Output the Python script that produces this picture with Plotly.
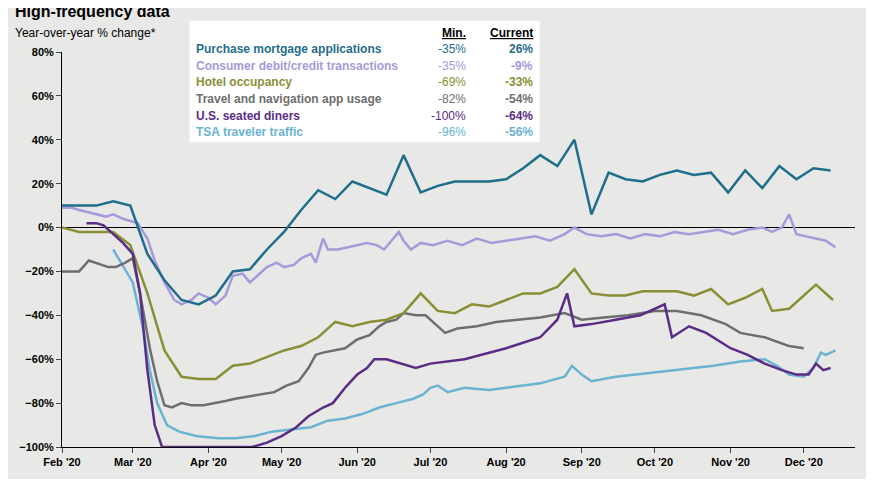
import plotly.graph_objects as go

mort_d = ["2020-02-01","2020-02-08","2020-02-15","2020-02-22","2020-02-29","2020-03-07","2020-03-14","2020-03-21","2020-03-28","2020-04-04","2020-04-11","2020-04-18","2020-04-25","2020-05-02","2020-05-09","2020-05-16","2020-05-23","2020-05-30","2020-06-06","2020-06-13","2020-06-20","2020-06-27","2020-07-04","2020-07-11","2020-07-18","2020-07-25","2020-08-01","2020-08-08","2020-08-15","2020-08-22","2020-08-29","2020-09-05","2020-09-12","2020-09-19","2020-09-26","2020-10-03","2020-10-10","2020-10-17","2020-10-24","2020-10-31","2020-11-07","2020-11-14","2020-11-21","2020-11-28","2020-12-05","2020-12-12"]
mort_v = [10,10,10,12,10,-12,-24,-33,-35,-31,-20,-19,-10,-2,8,17,13,21,18,15,33,16,19,21,21,21,22,27,33,28,40,6,25,22,21,24,26,24,25,16,26,18,28,22,27,26]

cons_d = ["2020-02-01","2020-02-05","2020-02-08","2020-02-12","2020-02-15","2020-02-19","2020-02-22","2020-02-26","2020-02-29","2020-03-03","2020-03-07","2020-03-10","2020-03-14","2020-03-18","2020-03-21","2020-03-25","2020-03-28","2020-04-01","2020-04-04","2020-04-08","2020-04-11","2020-04-15","2020-04-18","2020-04-22","2020-04-25","2020-04-29","2020-05-02","2020-05-06","2020-05-09","2020-05-13","2020-05-15","2020-05-18","2020-05-20","2020-05-24","2020-05-28","2020-06-01","2020-06-05","2020-06-09","2020-06-12","2020-06-15","2020-06-18","2020-06-20","2020-06-23","2020-06-27","2020-07-02","2020-07-08","2020-07-14","2020-07-20","2020-07-26","2020-08-01","2020-08-07","2020-08-13","2020-08-19","2020-08-25","2020-08-29","2020-09-03","2020-09-09","2020-09-15","2020-09-21","2020-09-27","2020-10-03","2020-10-09","2020-10-15","2020-10-21","2020-10-27","2020-11-02","2020-11-08","2020-11-14","2020-11-18","2020-11-22","2020-11-25","2020-11-28","2020-12-02","2020-12-06","2020-12-10","2020-12-14"]
cons_v = [9,9,8,7,6,5,6,4,3,2,-5,-15,-25,-33,-35,-33,-30,-32,-35,-31,-22,-21,-25,-21,-18,-16,-18,-17,-14,-12,-16,-5,-10,-10,-9,-8,-7,-8,-10,-6,-2,-6,-10,-7,-8,-6,-8,-5,-7,-6,-5,-4,-6,-3,0,-3,-4,-3,-5,-3,-4,-2,-3,-2,-1,-3,-1,0,-2,0,6,-3,-4,-5,-6,-9]

hot_d = ["2020-02-01","2020-02-08","2020-02-22","2020-02-29","2020-03-07","2020-03-14","2020-03-21","2020-03-28","2020-04-04","2020-04-11","2020-04-18","2020-04-25","2020-05-02","2020-05-09","2020-05-16","2020-05-23","2020-05-30","2020-06-06","2020-06-13","2020-06-20","2020-06-27","2020-07-04","2020-07-11","2020-07-18","2020-07-25","2020-08-01","2020-08-08","2020-08-15","2020-08-22","2020-08-29","2020-09-05","2020-09-12","2020-09-19","2020-09-26","2020-10-03","2020-10-10","2020-10-17","2020-10-24","2020-10-31","2020-11-07","2020-11-14","2020-11-18","2020-11-25","2020-12-06","2020-12-13"]
hot_v = [0,-2,-2,-8,-30,-56,-68,-69,-69,-63,-62,-59,-56,-54,-50,-43,-45,-43,-42,-39,-30,-38,-39,-35,-36,-33,-30,-30,-27,-19,-30,-31,-31,-29,-29,-29,-31,-28,-35,-32,-28,-38,-37,-26,-33]

trav_d = ["2020-02-01","2020-02-05","2020-02-08","2020-02-12","2020-02-15","2020-02-20","2020-02-23","2020-02-27","2020-03-01","2020-03-04","2020-03-08","2020-03-11","2020-03-14","2020-03-17","2020-03-21","2020-03-25","2020-03-30","2020-04-04","2020-04-08","2020-04-12","2020-04-18","2020-04-24","2020-04-28","2020-05-03","2020-05-08","2020-05-12","2020-05-15","2020-05-18","2020-05-22","2020-05-27","2020-06-01","2020-06-06","2020-06-10","2020-06-13","2020-06-17","2020-06-20","2020-06-25","2020-06-29","2020-07-03","2020-07-07","2020-07-12","2020-07-20","2020-07-28","2020-08-05","2020-08-15","2020-08-25","2020-09-01","2020-09-10","2020-09-20","2020-10-01","2020-10-10","2020-10-20","2020-10-30","2020-11-05","2020-11-15","2020-11-25","2020-12-01"]
trav_v = [-20,-20,-20,-15,-16,-18,-18,-16,-14,-30,-55,-70,-81,-82,-80,-81,-81,-80,-79,-78,-77,-76,-75,-72,-70,-64,-58,-57,-56,-55,-51,-49,-45,-43,-42,-39,-40,-40,-44,-48,-46,-45,-43,-42,-41,-39,-42,-41,-40,-38,-38,-40,-44,-48,-50,-54,-55]

din_d = ["2020-02-11","2020-02-15","2020-02-18","2020-02-22","2020-02-26","2020-03-01","2020-03-04","2020-03-07","2020-03-10","2020-03-13","2020-04-01","2020-04-19","2020-04-25","2020-05-01","2020-05-07","2020-05-12","2020-05-18","2020-05-22","2020-05-27","2020-06-01","2020-06-05","2020-06-08","2020-06-13","2020-06-16","2020-06-20","2020-06-25","2020-07-01","2020-07-15","2020-08-01","2020-08-15","2020-08-22","2020-08-26","2020-08-29","2020-09-05","2020-09-15","2020-09-25","2020-10-01","2020-10-05","2020-10-08","2020-10-15","2020-10-22","2020-10-28","2020-11-01","2020-11-08","2020-11-15","2020-11-22","2020-11-28","2020-12-03","2020-12-06","2020-12-09","2020-12-12"]
din_v = [2,2,1,-3,-7,-12,-30,-65,-90,-100,-100,-100,-98,-95,-91,-86,-82,-80,-73,-67,-64,-60,-60,-61,-62,-64,-62,-60,-55,-50,-42,-30,-45,-44,-42,-40,-37,-35,-50,-45,-48,-52,-55,-58,-62,-65,-67,-67,-62,-65,-64]

tsa_d = ["2020-02-22","2020-03-01","2020-03-05","2020-03-08","2020-03-11","2020-03-15","2020-03-20","2020-03-27","2020-04-05","2020-04-12","2020-04-20","2020-04-27","2020-05-05","2020-05-13","2020-05-20","2020-05-27","2020-06-03","2020-06-10","2020-06-17","2020-06-24","2020-06-28","2020-07-01","2020-07-04","2020-07-08","2020-07-15","2020-07-25","2020-08-01","2020-08-15","2020-08-25","2020-08-28","2020-09-01","2020-09-05","2020-09-15","2020-10-01","2020-10-15","2020-10-25","2020-11-05","2020-11-15","2020-11-20","2020-11-25","2020-12-01","2020-12-05","2020-12-08","2020-12-10","2020-12-14"]
tsa_v = [-10,-25,-45,-65,-80,-90,-93,-95,-96,-96,-95,-93,-92,-91,-88,-87,-85,-82,-80,-78,-76,-73,-72,-75,-73,-74,-73,-71,-68,-63,-67,-70,-68,-66,-64,-63,-61,-60,-63,-67,-68,-64,-57,-58,-56]

names = ["Purchase mortgage applications","Consumer debit/credit transactions","Hotel occupancy","Travel and navigation app usage","U.S. seated diners","TSA traveler traffic"]
mins = ["-35%","-35%","-69%","-82%","-100%","-96%"]
currents = ["26%","-9%","-33%","-54%","-64%","-56%"]
colors = ["#1F6E8C","#A899DB","#8A8F35","#6E6E6E","#5B2C86","#6BB3D3"]
series = [(mort_d,mort_v),(cons_d,cons_v),(hot_d,hot_v),(trav_d,trav_v),(din_d,din_v),(tsa_d,tsa_v)]

fig = go.Figure()
order = [5,3,2,1,4,0]
for i in order:
    d, v = series[i]
    fig.add_trace(go.Scatter(x=d, y=v, mode="lines", line=dict(color=colors[i], width=2.5), name=names[i]))

O = 8  # page body margin
W, H = 874 - 2*O, 487 - 2*O
L, R, T, B = 53 - O, 855 - O, 52 - O, 455 - O
def px(x): return (x - O - L) / (R - L)
def py(y): return (B - (y - O)) / (B - T)

bg = "#E8E8E6"
tf = dict(size=11, family="Arial", color="black", weight="bold")
fig.update_layout(
    width=W, height=H, paper_bgcolor=bg, plot_bgcolor=bg, showlegend=False,
    margin=dict(l=L, r=W-R, t=T, b=H-B),
    font=dict(family="Arial", color="black"),
    xaxis=dict(range=["2020-02-01","2020-12-22"], showgrid=False, zeroline=False,
               tickvals=["2020-%02d-01" % m for m in range(2,13)], tickformat="%b '%y",
               ticks="outside", ticklen=5, showline=True, linecolor="black", tickfont=tf),
    yaxis=dict(range=[-100,80], dtick=20, showgrid=False, zeroline=True, zerolinecolor="black", zerolinewidth=1,
               ticks="outside", ticklen=5, showline=True, linecolor="black", ticksuffix="%", tickfont=tf),
)
ann = []
ann.append(dict(text="<b>High-frequency data</b>", x=px(3), y=py(11), xref="paper", yref="paper", xanchor="left", yanchor="middle", showarrow=False, font=dict(size=16)))
ann.append(dict(text="Year-over-year % change*", x=px(3), y=py(33), xref="paper", yref="paper", xanchor="left", yanchor="middle", showarrow=False, font=dict(size=12)))
fig.add_shape(type="rect", xref="paper", yref="paper", x0=px(182), x1=px(536), y0=py(144), y1=py(20), fillcolor="white", line=dict(width=0), layer="above")
ann.append(dict(text="<b><u>Min.</u></b>", x=px(464), y=py(33), xref="paper", yref="paper", xanchor="right", yanchor="middle", showarrow=False, font=dict(size=12)))
ann.append(dict(text="<b><u>Current</u></b>", x=px(531), y=py(33), xref="paper", yref="paper", xanchor="right", yanchor="middle", showarrow=False, font=dict(size=12)))
for k in range(6):
    yy = py(49 + 17*k)
    f = dict(size=12, color=colors[k])
    ann.append(dict(text="<b>%s</b>" % names[k], x=px(186), y=yy, xref="paper", yref="paper", xanchor="left", yanchor="middle", showarrow=False, font=f))
    ann.append(dict(text=mins[k], x=px(464), y=yy, xref="paper", yref="paper", xanchor="right", yanchor="middle", showarrow=False, font=f))
    ann.append(dict(text="<b>%s</b>" % currents[k], x=px(531), y=yy, xref="paper", yref="paper", xanchor="right", yanchor="middle", showarrow=False, font=f))
fig.update_layout(annotations=ann)
fig.write_html("out.html")
